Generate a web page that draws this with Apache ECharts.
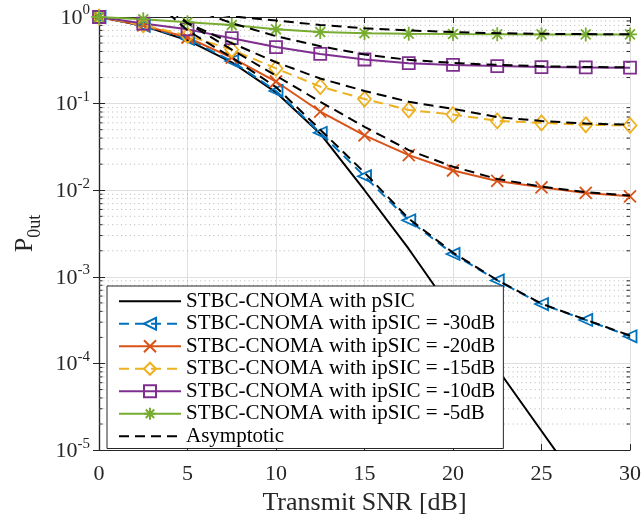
<!DOCTYPE html>
<html>
<head>
<meta charset="utf-8">
<script src="https://cdn.jsdelivr.net/npm/echarts@6/dist/echarts.min.js"></script>
<style>
html,body{margin:0;padding:0;background:#fff;}
#c{width:644px;height:521px;}
</style>
</head>
<body>
<div id="c"></div>
<script>
// ---- data ----
const snr = [0, 2.5, 5, 7.5, 10, 12.5, 15, 17.5, 20, 22.5, 25, 27.5, 30];
const pSIC   = [1.0, 0.79, 0.54, 0.30, 0.135, 0.045, 0.0100, 0.0021, 0.00039, 0.000087, 0.0000166, 0.0000032, 0.00000063];
const ip30   = [1.0, 0.79, 0.56, 0.31, 0.140, 0.046, 0.0145, 0.0045, 0.00184, 0.00091, 0.000485, 0.000318, 0.000206];
const ip20   = [1.0, 0.80, 0.58, 0.34, 0.180, 0.081, 0.043, 0.0254, 0.0169, 0.0128, 0.0108, 0.0093, 0.0085];
const ip15   = [1.0, 0.81, 0.61, 0.42, 0.255, 0.157, 0.113, 0.0845, 0.0747, 0.0633, 0.060, 0.057, 0.056];
const ip10   = [1.0, 0.84, 0.72, 0.57, 0.45, 0.375, 0.323, 0.293, 0.280, 0.271, 0.264, 0.262, 0.260];
const ip5    = [1.0, 0.94, 0.87, 0.81, 0.72, 0.67, 0.65, 0.64, 0.635, 0.633, 0.630, 0.630, 0.630];
// asymptotic curves (values above 1 are clipped by the axis)
const asym30 = [3.0, 2.0, 0.70, 0.34, 0.155, 0.050, 0.0160, 0.0047, 0.0019, 0.00092, 0.00049, 0.00032, 0.00021];
const asym20 = [3.0, 2.0, 0.85, 0.42, 0.210, 0.105, 0.054, 0.029, 0.0187, 0.0135, 0.0110, 0.0095, 0.0087];
const asym15 = [3.0, 2.0, 0.85, 0.50, 0.300, 0.195, 0.140, 0.105, 0.087, 0.070, 0.063, 0.059, 0.057];
const asym10 = [3.0, 2.0, 1.30, 0.85, 0.600, 0.460, 0.370, 0.320, 0.295, 0.280, 0.270, 0.265, 0.262];
const asym5  = [3.0, 2.0, 1.20, 1.02, 0.910, 0.810, 0.740, 0.700, 0.670, 0.650, 0.640, 0.635, 0.632];
const legendNames = [
  'STBC-CNOMA with pSIC',
  'STBC-CNOMA with ipSIC = -30dB',
  'STBC-CNOMA with ipSIC = -20dB',
  'STBC-CNOMA with ipSIC = -15dB',
  'STBC-CNOMA with ipSIC = -10dB',
  'STBC-CNOMA with ipSIC = -5dB',
  'Asymptotic'
];
const xTicks = [0, 5, 10, 15, 20, 25, 30];
const yDecades = [-5, -4, -3, -2, -1, 0];

// ---- styling ----
const FONT = 'Liberation Serif';
const AX = '#262626';
const colors = {b:'#0072BD', o:'#D95319', y:'#EDB120', p:'#7E2F8E', g:'#77AC30'};
const pair = arr => snr.map((x, i) => [x, arr[i]]);
const X_PATH = 'path://M0,0L10,10M10,0L0,10';
const AST_PATH = 'path://M5,0L5,10M0,5L10,5M1.5,1.5L8.5,8.5M8.5,1.5L1.5,8.5';
const DASH = [10, 6];

function curve(name, arr, color, symbol, size, dashed, rot) {
  return {
    name, type: 'line', data: pair(arr), xAxisIndex: 0, yAxisIndex: 0,
    symbol: symbol || 'none', symbolSize: size || 0, symbolRotate: rot || 0,
    showSymbol: !!symbol, clip: true, silent: true, animation: false,
    lineStyle: {color, width: 2, type: dashed ? DASH : 'solid'},
    itemStyle: {color: 'rgba(0,0,0,0)', borderColor: color, borderWidth: 1.8},
    emphasis: {disabled: true}, z: 3
  };
}
function asym(arr) {
  return {
    name: 'Asymptotic', type: 'line', data: pair(arr), symbol: 'none', showSymbol: false,
    clip: true, silent: true, animation: false,
    lineStyle: {color: '#000', width: 2, type: DASH},
    itemStyle: {color: '#000'}, emphasis: {disabled: true}, z: 4
  };
}

// minor log grid positions
const minorVals = [];
yDecades.slice(0, -1).forEach(e => { for (let m = 2; m <= 9; m++) minorVals.push(m * Math.pow(10, e)); });

const minorSeries = {
  type: 'custom', silent: true, animation: false, z: 1,
  data: minorVals.map(v => [0, v]), encode: {x: 0, y: 1},
  renderItem: function (params, api) {
    const v = api.value(1);
    const p0 = api.coord([0, v]);
    const p1 = api.coord([30, v]);
    return {
      type: 'group',
      children: [
        {type: 'line', shape: {x1: p0[0], y1: p0[1], x2: p1[0], y2: p1[1]},
         style: {stroke: '#b5b5b5', lineWidth: 1, lineDash: [1, 3.4]}},
        {type: 'line', shape: {x1: p0[0], y1: p0[1], x2: p0[0] + 3.5, y2: p0[1]},
         style: {stroke: AX, lineWidth: 1}},
        {type: 'line', shape: {x1: p1[0] - 3.5, y1: p1[1], x2: p1[0], y2: p1[1]},
         style: {stroke: AX, lineWidth: 1}}
      ]
    };
  }
};

const chart = echarts.init(document.getElementById('c'), null, {renderer: 'canvas'});
const axisLineStyle = {show: true, lineStyle: {color: AX, width: 1.2}};
const option = {
  backgroundColor: '#fff',
  animation: false,
  grid: {left: 99, right: 11, top: 17, bottom: 66, containLabel: false},
  legend: {
    orient: 'vertical', left: 107, top: 286,
    itemWidth: 62, itemHeight: 15, itemGap: 0,
    padding: [4, 8, 1, 11],
    backgroundColor: '#fff', borderColor: AX, borderWidth: 1, borderRadius: 0,
    textStyle: {fontFamily: FONT, fontSize: 21, color: '#000', lineHeight: 22.5},
    selectedMode: false,
    data: legendNames.map((n, i) => (i === 0 || i === 6) ? {name: n, itemStyle: {opacity: 0}} : {name: n})
  },
  xAxis: [{
    type: 'value', min: 0, max: 30, interval: 5, position: 'bottom',
    axisLine: axisLineStyle,
    axisTick: {show: true, inside: true, length: 6, lineStyle: {color: AX}},
    axisLabel: {fontFamily: FONT, fontSize: 22, color: AX, margin: 13,
      customValues: xTicks},
    splitLine: {show: true, lineStyle: {color: '#dfdfdf', width: 1}},
    name: 'Transmit SNR [dB]', nameLocation: 'middle', nameGap: 39,
    nameTextStyle: {fontFamily: FONT, fontSize: 26, color: AX}
  }, {
    type: 'value', min: 0, max: 30, interval: 5, position: 'top',
    axisLine: axisLineStyle,
    axisTick: {show: true, inside: true, length: 6, lineStyle: {color: AX}},
    axisLabel: {show: false}, splitLine: {show: false}
  }],
  yAxis: [{
    type: 'log', logBase: 10, min: 1e-5, max: 1, position: 'left',
    axisLine: axisLineStyle,
    axisTick: {show: true, inside: true, length: 6, lineStyle: {color: AX}},
    axisLabel: {
      margin: 9, color: AX,
      formatter: function (v) {
        const e = Math.round(Math.log10(v));
        return '{b|10}{s|' + e + '}';
      },
      rich: {
        b: {fontFamily: FONT, fontSize: 22, color: AX, lineHeight: 24, verticalAlign: 'bottom'},
        s: {fontFamily: FONT, fontSize: 15, color: AX, lineHeight: 24, verticalAlign: 'bottom', padding: [0, 0, 11, 0]}
      }
    },
    splitLine: {show: true, lineStyle: {color: '#dfdfdf', width: 1}},
    minorTick: {show: false}, minorSplitLine: {show: false},
    name: '{p|P}{s|0ut}', nameLocation: 'middle', nameGap: 55, nameRotate: 90,
    nameTextStyle: {
      rich: {
        p: {fontFamily: FONT, fontSize: 26, color: AX, lineHeight: 30, verticalAlign: 'bottom'},
        s: {fontFamily: FONT, fontSize: 18, color: AX, lineHeight: 30, verticalAlign: 'bottom', padding: [0, 0, -6, 0]}
      }
    }
  }, {
    type: 'log', logBase: 10, min: 1e-5, max: 1, position: 'right',
    axisLine: axisLineStyle,
    axisTick: {show: true, inside: true, length: 6, lineStyle: {color: AX}},
    axisLabel: {show: false}, splitLine: {show: false}
  }],
  series: [
    minorSeries,
    curve(legendNames[0], pSIC, '#000', null, 0, false),
    curve(legendNames[1], ip30, colors.b, 'triangle', [12, 13], true, 90),
    curve(legendNames[2], ip20, colors.o, X_PATH, 12, false),
    curve(legendNames[3], ip15, colors.y, 'diamond', [13, 15], true),
    curve(legendNames[4], ip10, colors.p, 'rect', 12, false),
    curve(legendNames[5], ip5, colors.g, AST_PATH, 14, false),
    asym(asym30), asym(asym20), asym(asym15), asym(asym10), asym(asym5)
  ]
};
chart.setOption(option);
</script>
</body>
</html>
